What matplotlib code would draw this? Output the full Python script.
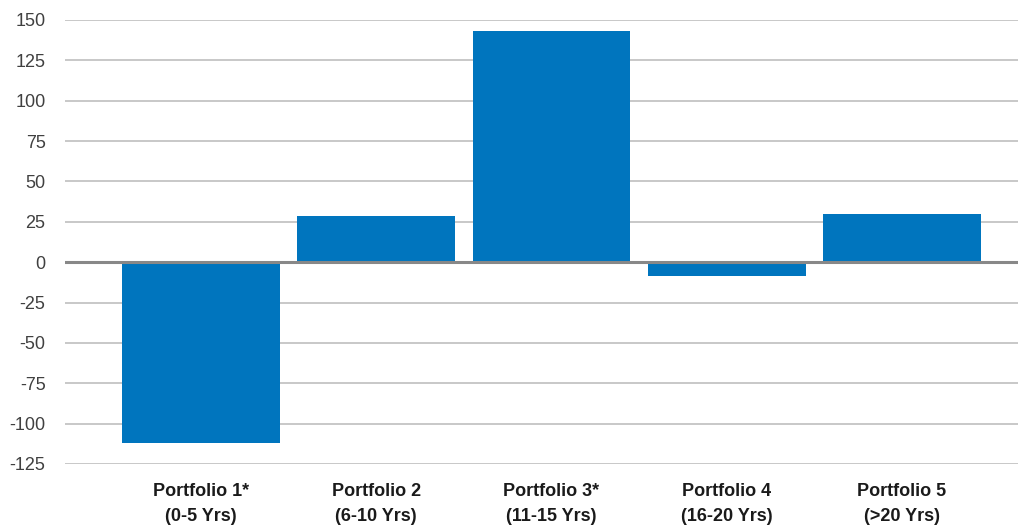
import matplotlib
matplotlib.use("Agg")
import matplotlib.pyplot as plt
from matplotlib import font_manager

categories = ["Portfolio 1*\n(0-5 Yrs)", "Portfolio 2\n(6-10 Yrs)", "Portfolio 3*\n(11-15 Yrs)",
              "Portfolio 4\n(16-20 Yrs)", "Portfolio 5\n(>20 Yrs)"]
values = [-112, 28.7, 143, -8.5, 29.7]
yticks = [-125, -100, -75, -50, -25, 0, 25, 50, 75, 100, 125, 150]

names = {f.name for f in font_manager.fontManager.ttflist}
xfont = "Liberation Sans Narrow" if "Liberation Sans Narrow" in names else (
    "DejaVu Sans Condensed" if "DejaVu Sans Condensed" in names else "Liberation Sans")

W, H = 1018, 525
fig = plt.figure(figsize=(W / 100, H / 100), dpi=100)
ax = fig.add_axes([65 / W, 1 - 464 / H, (1018 - 65) / W, (464 - 20) / H])

x = list(range(len(categories)))
ax.bar(x, values, width=0.9, color="#0075BE", zorder=3)
ax.set_ylim(-125, 150)
ax.set_xlim(-0.776, 4.662)
ax.set_yticks(yticks)
ax.set_yticklabels([str(v) for v in yticks], fontfamily="Liberation Sans", fontsize=13, color="#404040")
for v in yticks:
    if v == 0:
        ax.axhline(v, color="#888888", lw=2.2, zorder=4)
    else:
        ax.axhline(v, color="#c8c8c8", lw=1.4, zorder=1)
ax.set_xticks(x)
ax.set_xticklabels(categories, fontfamily=xfont, fontweight="bold", fontsize=13,
                   color="#1a1a1a", linespacing=1.55)
ax.tick_params(axis="both", length=0)
ax.tick_params(axis="y", pad=14)
ax.tick_params(axis="x", pad=14)
for s in ax.spines.values():
    s.set_visible(False)

fig.savefig("out.png", dpi=100)
